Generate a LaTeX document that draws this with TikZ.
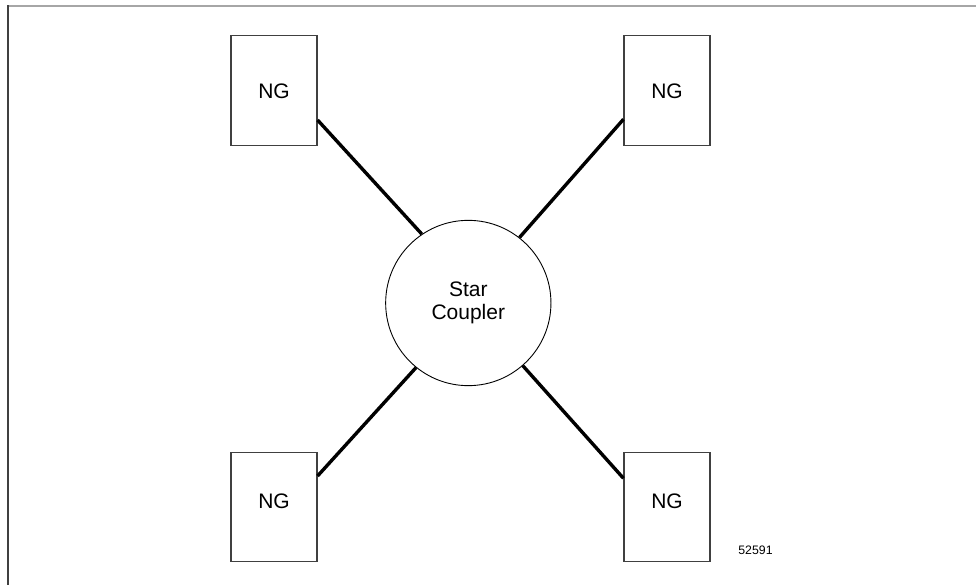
\documentclass[tikz,border=0pt]{standalone}
\usepackage{fontspec}
\setmainfont{Liberation Sans}
\begin{document}
\begin{tikzpicture}[x=1pt,y=-1pt,
  ngbox/.style={draw=black!75,line width=1.1pt,minimum width=86pt,minimum height=109.7pt,inner sep=0pt},
  ngtext/.style={font=\fontsize{21}{23}\selectfont,inner sep=0pt},
  coupler/.style={circle,draw=black,line width=0.9pt,minimum size=165.3pt,inner sep=0pt,
    align=center,font=\fontsize{21}{23.4}\selectfont},
  link/.style={line width=3.4pt,black},
  framel/.style={line width=1.2pt}]
\useasboundingbox (0,0) rectangle (976,585);
% sheet border (top and left edges)
\draw[framel,draw=black!35] (8,6) -- (976,6);
\draw[framel,draw=black!75] (8,5.4) -- (8,585);
% network groups
\node[ngbox] (tl) at (274,90.8) {};
\node[ngbox] (tr) at (667,90.8) {};
\node[ngbox] (bl) at (274,507) {};
\node[ngbox] (br) at (667,507) {};
\node[ngtext] (tlt) at (274,91.7) {NG};
\node[ngtext] (trt) at (667,91.7) {NG};
\node[ngtext] (blt) at (274,501.5) {NG};
\node[ngtext] (brt) at (667,501.5) {NG};
% star coupler
\node[coupler] (sc) at (468.3,303) {Star\\Coupler};
% attachment points on the box sides
\coordinate (tlp) at (tl.east |- 0,120);
\coordinate (trp) at (tr.west |- 0,119.3);
\coordinate (blp) at (bl.east |- 0,476);
\coordinate (brp) at (br.west |- 0,478.3);
\draw[link] (tlp) -- (sc.124.7);
\draw[link] (trp) -- (sc.52.7);
\draw[link] (blp) -- (sc.231.2);
\draw[link] (brp) -- (sc.311.3);
% figure number
\node[font=\fontsize{12.3}{14}\selectfont,inner sep=0pt] (fig) at (755.5,550.7) {52591};
\end{tikzpicture}
\end{document}
